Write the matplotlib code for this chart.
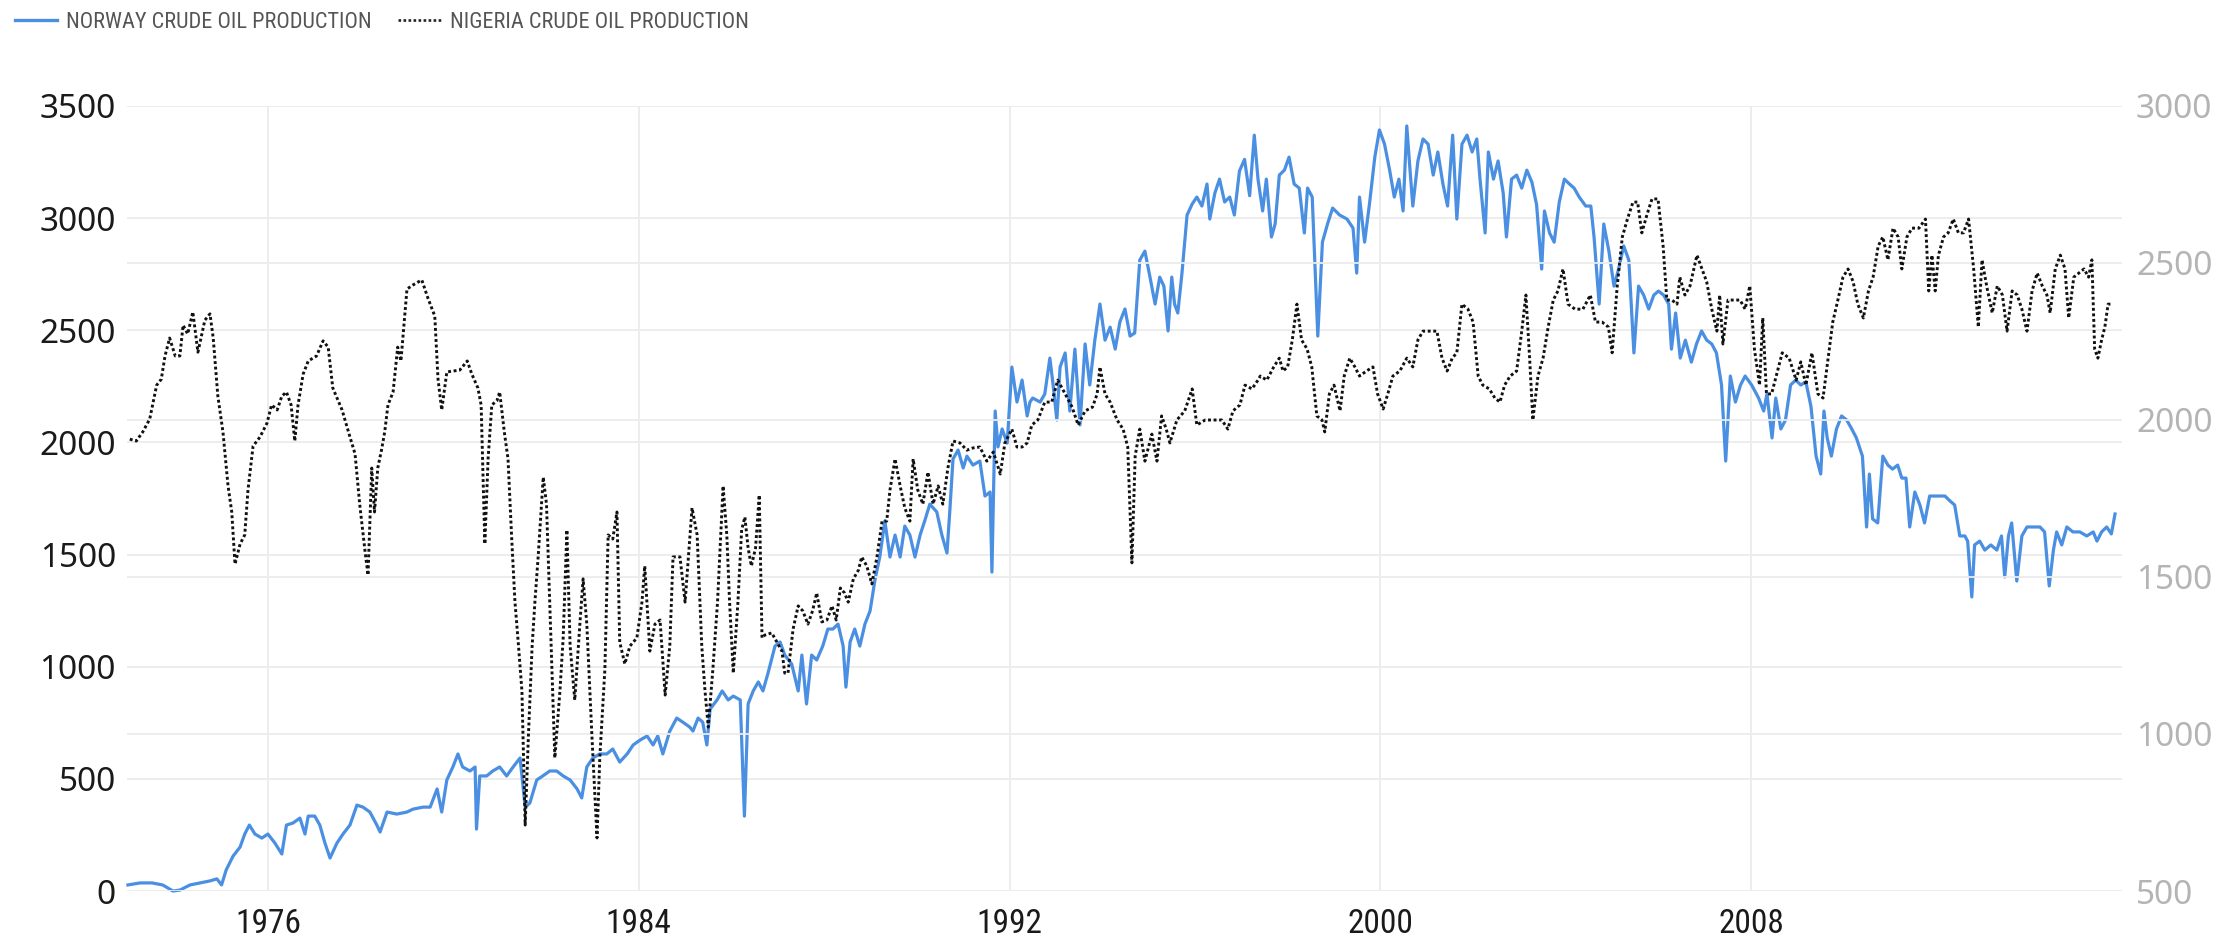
import matplotlib
matplotlib.use("Agg")
import matplotlib.pyplot as plt
from matplotlib import font_manager as fm
from matplotlib.lines import Line2D

# ---------------------------------------------------------------------------
# Crude oil production (thousand barrels per day), sampled along time in years
# ---------------------------------------------------------------------------
norway_years = [
    1972.98, 1973.24, 1973.50, 1973.73, 1973.95, 1974.10, 1974.32, 1974.53, 1974.75, 1974.90,
    1975.00, 1975.10, 1975.25, 1975.40, 1975.50, 1975.60, 1975.72, 1975.87, 1976.00, 1976.15,
    1976.30, 1976.40, 1976.54, 1976.69, 1976.80, 1976.87, 1977.01, 1977.12, 1977.23, 1977.34,
    1977.49, 1977.62, 1977.77, 1977.92, 1978.05, 1978.20, 1978.35, 1978.42, 1978.57, 1978.78,
    1979.00, 1979.13, 1979.35, 1979.50, 1979.65, 1979.75, 1979.86, 1979.99, 1980.10, 1980.20,
    1980.36, 1980.47, 1980.50, 1980.57, 1980.72, 1980.85, 1981.00, 1981.15, 1981.29, 1981.44,
    1981.55, 1981.65, 1981.80, 1981.93, 1982.08, 1982.23, 1982.37, 1982.52, 1982.67, 1982.77,
    1982.88, 1983.01, 1983.16, 1983.31, 1983.44, 1983.59, 1983.75, 1983.88, 1984.03, 1984.18,
    1984.31, 1984.41, 1984.52, 1984.67, 1984.82, 1984.95, 1985.10, 1985.17, 1985.28, 1985.38,
    1985.47, 1985.54, 1985.69, 1985.80, 1985.93, 1986.04, 1986.19, 1986.28, 1986.36, 1986.47,
    1986.58, 1986.68, 1986.79, 1986.94, 1987.05, 1987.15, 1987.30, 1987.44, 1987.52, 1987.62,
    1987.73, 1987.84, 1987.97, 1988.08, 1988.19, 1988.30, 1988.41, 1988.47, 1988.56, 1988.66,
    1988.77, 1988.88, 1988.99, 1989.10, 1989.20, 1989.31, 1989.42, 1989.53, 1989.64, 1989.74,
    1989.85, 1989.96, 1990.07, 1990.17, 1990.28, 1990.43, 1990.54, 1990.65, 1990.71, 1990.78,
    1990.89, 1991.00, 1991.08, 1991.21, 1991.36, 1991.47, 1991.58, 1991.62, 1991.69, 1991.75,
    1991.84, 1991.95, 1992.05, 1992.16, 1992.27, 1992.38, 1992.44, 1992.50, 1992.66, 1992.76,
    1992.87, 1992.94, 1993.02, 1993.09, 1993.20, 1993.30, 1993.41, 1993.52, 1993.63, 1993.73,
    1993.84, 1993.95, 1994.06, 1994.17, 1994.28, 1994.38, 1994.49, 1994.60, 1994.70, 1994.81,
    1994.92, 1995.03, 1995.14, 1995.24, 1995.33, 1995.42, 1995.50, 1995.56, 1995.63, 1995.72,
    1995.83, 1995.94, 1996.04, 1996.15, 1996.26, 1996.32, 1996.43, 1996.53, 1996.64, 1996.75,
    1996.85, 1996.96, 1997.07, 1997.18, 1997.28, 1997.36, 1997.46, 1997.54, 1997.65, 1997.73,
    1997.82, 1997.93, 1998.03, 1998.14, 1998.25, 1998.36, 1998.43, 1998.53, 1998.65, 1998.75,
    1998.86, 1998.97, 1999.12, 1999.28, 1999.41, 1999.49, 1999.55, 1999.66, 1999.77, 1999.88,
    1999.98, 2000.09, 2000.20, 2000.30, 2000.40, 2000.49, 2000.57, 2000.64, 2000.70, 2000.81,
    2000.92, 2001.03, 2001.14, 2001.24, 2001.35, 2001.45, 2001.56, 2001.65, 2001.76, 2001.87,
    2001.98, 2002.08, 2002.15, 2002.26, 2002.33, 2002.44, 2002.54, 2002.65, 2002.72, 2002.83,
    2002.94, 2003.05, 2003.16, 2003.27, 2003.37, 2003.48, 2003.54, 2003.65, 2003.75, 2003.86,
    2003.97, 2004.08, 2004.18, 2004.29, 2004.43, 2004.54, 2004.61, 2004.72, 2004.82, 2004.93,
    2005.04, 2005.14, 2005.25, 2005.36, 2005.47, 2005.57, 2005.68, 2005.79, 2005.90, 2006.00,
    2006.11, 2006.22, 2006.28, 2006.37, 2006.47, 2006.58, 2006.71, 2006.82, 2006.93, 2007.04,
    2007.15, 2007.25, 2007.36, 2007.45, 2007.55, 2007.66, 2007.77, 2007.87, 2008.01, 2008.16,
    2008.27, 2008.34, 2008.45, 2008.53, 2008.64, 2008.74, 2008.85, 2008.96, 2009.07, 2009.18,
    2009.29, 2009.40, 2009.50, 2009.57, 2009.64, 2009.73, 2009.84, 2009.95, 2010.06, 2010.17,
    2010.27, 2010.40, 2010.49, 2010.55, 2010.62, 2010.73, 2010.84, 2010.95, 2011.05, 2011.16,
    2011.25, 2011.34, 2011.42, 2011.53, 2011.64, 2011.74, 2011.85, 2011.96, 2012.07, 2012.18,
    2012.29, 2012.39, 2012.50, 2012.61, 2012.67, 2012.76, 2012.82, 2012.93, 2013.04, 2013.17,
    2013.30, 2013.40, 2013.47, 2013.55, 2013.62, 2013.73, 2013.84, 2013.95, 2014.08, 2014.23,
    2014.33, 2014.43, 2014.52, 2014.59, 2014.70, 2014.81, 2014.94, 2015.09, 2015.24, 2015.38,
    2015.46, 2015.56, 2015.67, 2015.77, 2015.85,
]
norway_kbd = [
    27, 36, 36, 27, 0, 4, 27, 36, 45, 54,
    27, 94, 156, 196, 254, 294, 254, 236, 254, 214,
    165, 294, 303, 325, 254, 334, 334, 294, 214, 147,
    214, 254, 294, 383, 374, 352, 294, 263, 352, 343,
    352, 365, 374, 374, 455, 352, 495, 553, 611, 553,
    535, 553, 276, 513, 513, 535, 553, 513, 553, 593,
    374, 392, 495, 513, 535, 535, 513, 495, 455, 415,
    553, 593, 611, 611, 633, 575, 611, 651, 673, 691,
    651, 691, 611, 713, 771, 753, 731, 713, 771, 753,
    651, 811, 852, 892, 852, 869, 852, 334, 834, 892,
    932, 892, 972, 1092, 1110, 1052, 1012, 892, 1052, 834,
    1052, 1030, 1092, 1168, 1168, 1190, 1092, 909, 1110, 1168,
    1092, 1190, 1248, 1391, 1489, 1650, 1489, 1587, 1489, 1627,
    1587, 1489, 1587, 1650, 1725, 1690, 1587, 1507, 1690, 1926,
    1966, 1886, 1939, 1899, 1917, 1761, 1779, 1422, 2140, 1980,
    2060, 1997, 2336, 2180, 2278, 2118, 2180, 2198, 2180, 2216,
    2376, 2256, 2100, 2336, 2399, 2140, 2416, 2078, 2439, 2256,
    2456, 2617, 2456, 2514, 2416, 2537, 2595, 2474, 2488, 2813,
    2853, 2737, 2617, 2737, 2697, 2497, 2737, 2617, 2577, 2755,
    3014, 3063, 3094, 3054, 3152, 2996, 3112, 3174, 3072, 3094,
    3014, 3210, 3262, 3100, 3370, 3174, 3032, 3174, 2916, 2974,
    3192, 3214, 3272, 3152, 3134, 2934, 3134, 3094, 2474, 2893,
    2974, 3045, 3014, 2996, 2956, 2755, 3094, 2893, 3072, 3272,
    3393, 3330, 3214, 3094, 3174, 3032, 3411, 3214, 3054, 3255,
    3353, 3330, 3192, 3295, 3152, 3054, 3370, 2996, 3330, 3370,
    3295, 3353, 3174, 2934, 3295, 3174, 3255, 3112, 2916, 3174,
    3192, 3134, 3214, 3160, 3060, 2773, 3032, 2934, 2893, 3072,
    3174, 3152, 3134, 3094, 3054, 3054, 2916, 2617, 2974, 2853,
    2697, 2773, 2876, 2813, 2399, 2697, 2657, 2595, 2657, 2675,
    2657, 2617, 2416, 2577, 2376, 2456, 2358, 2439, 2497, 2456,
    2439, 2399, 2256, 1917, 2296, 2180, 2256, 2296, 2256, 2198,
    2140, 2216, 2020, 2198, 2060, 2100, 2256, 2278, 2256, 2270,
    2160, 1939, 1859, 2140, 2020, 1939, 2060, 2118, 2100, 2060,
    2020, 1939, 1623, 1859, 1659, 1641, 1939, 1899, 1881, 1899,
    1841, 1841, 1623, 1779, 1721, 1641, 1761, 1761, 1761, 1761,
    1739, 1721, 1583, 1583, 1560, 1311, 1543, 1560, 1520, 1543,
    1520, 1583, 1400, 1583, 1641, 1382, 1583, 1623, 1623, 1623,
    1601, 1360, 1520, 1601, 1543, 1623, 1601, 1601, 1583, 1601,
    1560, 1601, 1623, 1592, 1681,
]

nigeria_years = [
    1973.02, 1973.16, 1973.30, 1973.45, 1973.60, 1973.70, 1973.78, 1973.88, 1974.00, 1974.10,
    1974.17, 1974.27, 1974.38, 1974.49, 1974.64, 1974.75, 1974.82, 1974.92, 1975.03, 1975.14,
    1975.22, 1975.29, 1975.40, 1975.50, 1975.57, 1975.68, 1975.83, 1975.98, 1976.08, 1976.20,
    1976.30, 1976.40, 1976.50, 1976.58, 1976.65, 1976.76, 1976.87, 1977.05, 1977.19, 1977.30,
    1977.40, 1977.60, 1977.77, 1977.88, 1977.98, 1978.10, 1978.16, 1978.24, 1978.30, 1978.37,
    1978.45, 1978.52, 1978.59, 1978.70, 1978.80, 1978.87, 1979.00, 1979.13, 1979.32, 1979.45,
    1979.60, 1979.67, 1979.75, 1979.86, 1980.14, 1980.30, 1980.40, 1980.53, 1980.60, 1980.68,
    1980.75, 1980.83, 1980.94, 1981.00, 1981.10, 1981.18, 1981.26, 1981.33, 1981.40, 1981.48,
    1981.55, 1981.62, 1981.70, 1981.76, 1981.83, 1981.94, 1982.01, 1982.08, 1982.19, 1982.30,
    1982.37, 1982.45, 1982.52, 1982.62, 1982.73, 1982.80, 1982.88, 1982.99, 1983.10, 1983.16,
    1983.27, 1983.34, 1983.44, 1983.53, 1983.59, 1983.70, 1983.81, 1983.96, 1984.07, 1984.13,
    1984.24, 1984.35, 1984.46, 1984.57, 1984.67, 1984.74, 1984.89, 1985.00, 1985.15, 1985.26,
    1985.36, 1985.43, 1985.50, 1985.60, 1985.70, 1985.82, 1985.90, 1985.96, 1986.04, 1986.14,
    1986.22, 1986.29, 1986.36, 1986.43, 1986.52, 1986.60, 1986.66, 1986.72, 1986.87, 1986.98,
    1987.09, 1987.15, 1987.22, 1987.33, 1987.44, 1987.54, 1987.65, 1987.75, 1987.84, 1987.95,
    1988.06, 1988.17, 1988.26, 1988.35, 1988.44, 1988.52, 1988.63, 1988.74, 1988.81, 1988.92,
    1989.03, 1989.14, 1989.25, 1989.35, 1989.42, 1989.53, 1989.64, 1989.74, 1989.85, 1989.92,
    1990.02, 1990.13, 1990.24, 1990.35, 1990.46, 1990.56, 1990.67, 1990.78, 1990.93, 1991.08,
    1991.21, 1991.36, 1991.51, 1991.65, 1991.80, 1991.90, 1992.05, 1992.16, 1992.27, 1992.38,
    1992.48, 1992.61, 1992.76, 1992.91, 1993.04, 1993.20, 1993.35, 1993.48, 1993.63, 1993.79,
    1993.89, 1993.95, 1994.06, 1994.17, 1994.32, 1994.45, 1994.55, 1994.64, 1994.71, 1994.81,
    1994.92, 1995.07, 1995.18, 1995.28, 1995.38, 1995.46, 1995.61, 1995.78, 1995.94, 1996.04,
    1996.22, 1996.40, 1996.58, 1996.71, 1996.82, 1996.97, 1997.08, 1997.23, 1997.36, 1997.41,
    1997.55, 1997.70, 1997.82, 1997.90, 1998.00, 1998.10, 1998.20, 1998.30, 1998.42, 1998.52,
    1998.63, 1998.74, 1998.80, 1998.90, 1999.00, 1999.13, 1999.22, 1999.34, 1999.45, 1999.55,
    1999.70, 1999.84, 1999.94, 2000.06, 2000.16, 2000.27, 2000.42, 2000.57, 2000.70, 2000.81,
    2000.92, 2001.07, 2001.22, 2001.33, 2001.44, 2001.55, 2001.65, 2001.76, 2001.89, 2002.00,
    2002.11, 2002.21, 2002.35, 2002.47, 2002.58, 2002.68, 2002.80, 2002.94, 2003.05, 2003.14,
    2003.22, 2003.29, 2003.40, 2003.51, 2003.62, 2003.73, 2003.83, 2003.94, 2004.05, 2004.20,
    2004.37, 2004.53, 2004.64, 2004.78, 2004.92, 2005.00, 2005.11, 2005.22, 2005.33, 2005.45,
    2005.55, 2005.64, 2005.75, 2005.86, 2005.99, 2006.10, 2006.18, 2006.29, 2006.40, 2006.46,
    2006.57, 2006.68, 2006.83, 2006.94, 2007.04, 2007.15, 2007.26, 2007.32, 2007.39, 2007.50,
    2007.61, 2007.76, 2007.87, 2007.97, 2008.07, 2008.18, 2008.25, 2008.33, 2008.44, 2008.54,
    2008.67, 2008.82, 2008.97, 2009.07, 2009.18, 2009.31, 2009.44, 2009.55, 2009.66, 2009.76,
    2009.87, 2009.98, 2010.09, 2010.20, 2010.30, 2010.42, 2010.53, 2010.63, 2010.74, 2010.84,
    2010.95, 2011.06, 2011.17, 2011.25, 2011.36, 2011.47, 2011.62, 2011.76, 2011.83, 2011.90,
    2011.97, 2012.04, 2012.15, 2012.25, 2012.36, 2012.47, 2012.58, 2012.69, 2012.80, 2012.90,
    2012.98, 2013.08, 2013.20, 2013.31, 2013.42, 2013.52, 2013.63, 2013.74, 2013.84, 2013.95,
    2014.06, 2014.17, 2014.28, 2014.38, 2014.45, 2014.56, 2014.67, 2014.77, 2014.85, 2014.96,
    2015.07, 2015.18, 2015.28, 2015.35, 2015.41, 2015.48, 2015.56, 2015.63, 2015.70, 2015.80,
]
nigeria_kbd = [
    1939, 1933, 1962, 2003, 2111, 2130, 2204, 2261, 2204, 2204,
    2302, 2274, 2344, 2216, 2318, 2338, 2261, 2076, 1962, 1790,
    1707, 1541, 1605, 1634, 1777, 1917, 1946, 1990, 2048, 2032,
    2076, 2089, 2048, 1933, 2048, 2146, 2188, 2204, 2252, 2232,
    2102, 2032, 1946, 1892, 1732, 1576, 1506, 1847, 1707, 1847,
    1904, 1962, 2048, 2089, 2232, 2188, 2417, 2430, 2446, 2389,
    2331, 2130, 2032, 2153, 2159, 2188, 2146, 2102, 2048, 1605,
    1876, 2048, 2061, 2089, 1962, 1876, 1621, 1420, 1293, 1137,
    710, 994, 1280, 1420, 1564, 1818, 1732, 1420, 924, 1137,
    1306, 1650, 1280, 1108, 1350, 1494, 1350, 994, 669, 924,
    1207, 1634, 1621, 1707, 1293, 1223, 1280, 1306, 1420, 1535,
    1264, 1350, 1363, 1124, 1280, 1564, 1564, 1420, 1720, 1634,
    1280, 1137, 1022, 1207, 1420, 1790, 1634, 1420, 1194, 1420,
    1650, 1691, 1592, 1535, 1592, 1761, 1306, 1315, 1322, 1293,
    1264, 1194, 1194, 1334, 1408, 1392, 1350, 1392, 1449, 1357,
    1363, 1408, 1363, 1465, 1449, 1420, 1494, 1522, 1564, 1535,
    1478, 1564, 1678, 1678, 1777, 1876, 1790, 1720, 1678, 1876,
    1777, 1732, 1834, 1732, 1790, 1732, 1847, 1933, 1927, 1904,
    1911, 1914, 1869, 1898, 1828, 1927, 1971, 1914, 1914, 1927,
    1984, 2000, 2057, 2057, 2127, 2083, 2041, 1984, 2029, 2041,
    2083, 2169, 2083, 2057, 2000, 1971, 1914, 1545, 1885, 1971,
    1869, 1955, 1869, 2013, 1971, 1927, 2000, 2029, 2099, 1984,
    2000, 2000, 2000, 1971, 2029, 2048, 2111, 2099, 2127, 2140,
    2127, 2169, 2197, 2156, 2169, 2255, 2369, 2255, 2226, 2169,
    2013, 2000, 1962, 2083, 2111, 2029, 2140, 2197, 2169, 2140,
    2156, 2169, 2083, 2035, 2083, 2140, 2156, 2197, 2169, 2255,
    2283, 2283, 2283, 2197, 2156, 2197, 2214, 2369, 2353, 2312,
    2140, 2111, 2099, 2070, 2057, 2111, 2140, 2156, 2283, 2398,
    2197, 2000, 2140, 2197, 2296, 2382, 2411, 2481, 2369, 2353,
    2353, 2398, 2312, 2312, 2296, 2214, 2427, 2583, 2640, 2694,
    2694, 2596, 2653, 2704, 2704, 2554, 2382, 2382, 2369, 2455,
    2398, 2427, 2525, 2481, 2440, 2353, 2283, 2398, 2242, 2382,
    2382, 2382, 2353, 2427, 2226, 2111, 2325, 2083, 2083, 2140,
    2214, 2197, 2127, 2185, 2111, 2214, 2083, 2070, 2197, 2312,
    2382, 2455, 2481, 2440, 2369, 2325, 2411, 2455, 2554, 2583,
    2510, 2611, 2583, 2481, 2583, 2611, 2611, 2640, 2411, 2525,
    2411, 2525, 2583, 2596, 2640, 2596, 2596, 2640, 2481, 2296,
    2510, 2427, 2341, 2427, 2398, 2283, 2411, 2398, 2353, 2283,
    2411, 2468, 2427, 2398, 2341, 2481, 2525, 2481, 2325, 2455,
    2468, 2481, 2455, 2510, 2226, 2197, 2255, 2296, 2369, 2369,
]

year_ticks = [1976, 1984, 1992, 2000, 2008]
left_ticks = [0, 500, 1000, 1500, 2000, 2500, 3000, 3500]
right_ticks = [500, 1000, 1500, 2000, 2500, 3000]
series_labels = ["NORWAY CRUDE OIL PRODUCTION", "NIGERIA CRUDE OIL PRODUCTION"]

# ---------------------------------------------------------------------------
NORWAY_BLUE = "#4a8fe2"
GRID = "#ececec"


def font_available(name):
    try:
        fm.findfont(fm.FontProperties(family=name), fallback_to_default=False)
        return True
    except Exception:
        return False


# Narrow face for the year labels and the legend; fall back to a plain
# sans face at a smaller size when no condensed face is installed.
narrow_family = None
for name in ["Liberation Sans Narrow", "Arial Narrow", "DejaVu Sans Condensed",
             "Roboto Condensed"]:
    if font_available(name):
        narrow_family = name
        break
if narrow_family is not None:
    xlab_prop = fm.FontProperties(family=[narrow_family, "DejaVu Sans"], size=24)
    leg_prop = fm.FontProperties(family=[narrow_family, "DejaVu Sans"], size=16)
else:
    xlab_prop = fm.FontProperties(family=["Liberation Sans", "DejaVu Sans"], size=23)
    leg_prop = fm.FontProperties(family=["Liberation Sans", "DejaVu Sans"], size=13.5)
ylab_prop = fm.FontProperties(family=["Noto Sans", "DejaVu Sans"], size=24)

W, H = 2215, 943
fig = plt.figure(figsize=(W / 100, H / 100), dpi=100)
fig.patch.set_facecolor("white")

left_px, right_px, top_px, bottom_px = 127, 2122, 106, 891
ax = fig.add_axes([left_px / W, 1 - bottom_px / H,
                   (right_px - left_px) / W, (bottom_px - top_px) / H])
ax2 = ax.twinx()

ax.plot(norway_years, norway_kbd, color=NORWAY_BLUE, lw=2.3,
        solid_joinstyle="round", clip_on=False, zorder=3)
ax2.plot(nigeria_years, nigeria_kbd, color="#111111", lw=2.1,
         linestyle=(0, (1.0, 0.9)), clip_on=False, zorder=3)

ax.set_xlim(1972.96, 2016.0)
ax.set_ylim(0, 3500)
ax2.set_ylim(500, 3000)

ax.set_xticks(year_ticks)
ax.set_xticklabels([str(y) for y in year_ticks])
ax.set_yticks(left_ticks)
ax.set_yticklabels([str(v) for v in left_ticks])
ax2.set_yticks(right_ticks)
ax2.set_yticklabels([str(v) for v in right_ticks])

for lab in ax.get_xticklabels():
    lab.set_fontproperties(xlab_prop)
    lab.set_color("#1a1a1a")
for lab in ax.get_yticklabels():
    lab.set_fontproperties(ylab_prop)
    lab.set_color("#1a1a1a")
for lab in ax2.get_yticklabels():
    lab.set_fontproperties(ylab_prop)
    lab.set_color("#b4b4b4")

ax.tick_params(axis="x", length=0, pad=12)
ax.tick_params(axis="y", length=0, pad=8)
ax2.tick_params(axis="y", length=0, pad=10)

for a in (ax, ax2):
    for s in a.spines.values():
        s.set_visible(False)
    a.set_axisbelow(True)

ax.grid(True, axis="both", color=GRID, lw=1.3)
ax2.grid(True, axis="y", color=GRID, lw=1.3)
ax2.set_zorder(ax.get_zorder() + 1)
ax2.patch.set_visible(False)

handles = [
    Line2D([], [], color=NORWAY_BLUE, lw=2.4),
    Line2D([], [], color="#222222", lw=1.9, linestyle=(0, (1.0, 0.9))),
]
leg = fig.legend(handles, series_labels, loc="upper left",
                 bbox_to_anchor=(15 / W, 1 - 12 / H), ncol=2, frameon=False,
                 borderpad=0, borderaxespad=0, handlelength=1.9,
                 handletextpad=0.4, columnspacing=1.2, prop=leg_prop)
for t in leg.get_texts():
    t.set_color("#555555")

fig.savefig("out.png", dpi=100, facecolor="white")
